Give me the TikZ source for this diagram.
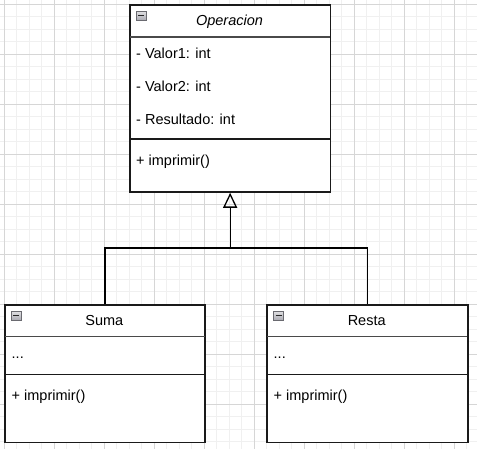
\documentclass[tikz,border=0pt]{standalone}
\usepackage{fontspec}
\setmainfont{Liberation Sans}
\usetikzlibrary{arrows.meta,positioning,calc}
\definecolor{minorgrid}{HTML}{F0F0F0}
\definecolor{majorgrid}{HTML}{D6D6D6}
\definecolor{boxline}{HTML}{1A1A1A}
\definecolor{sepline}{HTML}{4A4A4A}
\definecolor{iconfill}{HTML}{A8A8B0}
\definecolor{iconedge}{HTML}{6A6A70}
\tikzset{
  umlbox/.style={draw=boxline, line width=1.3pt, fill=white, inner sep=0pt, anchor=north west},
  umltext/.style={inner sep=0pt, anchor=base west, font=\fontsize{14.5}{16}\selectfont},
  umltitle/.style={inner sep=0pt, anchor=base, font=\fontsize{14.5}{16}\selectfont},
  sep/.style={draw=sepline, line width=1.6pt},
  septhin/.style={draw=boxline, line width=1.3pt},
  iconbox/.style={draw=iconedge, line width=0.7pt, top color=iconfill!35, bottom color=iconfill, minimum width=10pt, minimum height=9.5pt, inner sep=0pt, anchor=north west},
  conn/.style={draw=black, line width=1.3pt},
}
\begin{document}
\begin{tikzpicture}[x=1pt,y=-1pt]
\useasboundingbox (0,0) rectangle (477,449);
\fill[white] (0,0) rectangle (477,449);
% grid
\foreach \i in {-1,...,38} {
  \draw[minorgrid, line width=0.8pt] ({4+12.5*\i},0) -- ({4+12.5*\i},449);
  \draw[minorgrid, line width=0.8pt] (0,{4+12.5*\i}) -- (477,{4+12.5*\i});
}
\foreach \i in {0,...,9} {
  \draw[majorgrid, line width=0.9pt] ({4+50*\i},0) -- ({4+50*\i},449);
  \draw[majorgrid, line width=0.9pt] (0,{4+50*\i}) -- (477,{4+50*\i});
}
% boxes
\node[umlbox, minimum width=200pt, minimum height=187pt] (op) at (129.5,4.5) {};
\node[umlbox, minimum width=199.5pt, minimum height=137pt] (suma) at (4.5,304.5) {};
\node[umlbox, minimum width=200pt, minimum height=137pt] (resta) at (266.7,304.5) {};
% separators
\draw[sep] (op.west |- 0,37) coordinate (ophl) -- (op.east |- 0,37) coordinate (ophr);
\draw[septhin] (op.west |- 0,139) coordinate (opsl) -- (op.east |- 0,139) coordinate (opsr);
\draw[sep] (suma.west |- 0,336.7) coordinate (suhl) -- (suma.east |- 0,336.7) coordinate (suhr);
\draw[septhin] (suma.west |- 0,374.3) coordinate (susl) -- (suma.east |- 0,374.3) coordinate (susr);
\draw[sep] (resta.west |- 0,336.7) coordinate (rehl) -- (resta.east |- 0,336.7) coordinate (rehr);
\draw[septhin] (resta.west |- 0,374.3) coordinate (resl) -- (resta.east |- 0,374.3) coordinate (resr);
% redraw outlines on top
\draw[boxline, line width=1.3pt] (op.north west) rectangle (op.south east);
\draw[boxline, line width=1.3pt] (suma.north west) rectangle (suma.south east);
\draw[boxline, line width=1.3pt] (resta.north west) rectangle (resta.south east);
% collapse icons
\foreach \b/\n in {op/opicon, suma/suicon, resta/reicon} {
  \node[iconbox] (\n) at ($(\b.north west)+(6.5,6.2)$) {};
  \draw[black!85, line width=1.4pt] ($(\n.west)+(2.3,0)$) -- ($(\n.east)+(-2.3,0)$);
}
% texts
\node[umltitle, font=\fontsize{14.5}{16}\selectfont\itshape] (optitle) at (229.5,26) {Operacion};
\node[umltext] (a1) at (136,58.5) {- Valor1: int};
\node[umltext] (a2) at (136,91.5) {- Valor2: int};
\node[umltext] (a3) at (136,124.5) {- Resultado: int};
\node[umltext] (m1) at (136,166) {+ imprimir()};
\node[umltitle] (sutitle) at (104.3,326) {Suma};
\node[umltext] (sua) at (11.5,359) {...};
\node[umltext] (sum) at (11.5,400) {+ imprimir()};
\node[umltitle] (retitle) at (366.7,326) {Resta};
\node[umltext] (rea) at (273.5,359) {...};
\node[umltext] (rem) at (273.5,400) {+ imprimir()};
% connectors
\coordinate (join) at (op.south |- 0,248);
\draw[conn, {Triangle[open,length=15pt,width=14pt,line width=1.3pt]}-] (op.south) -- (join);
\draw[conn] (suma.north) |- (join) -| (resta.north);
\end{tikzpicture}
\end{document}
